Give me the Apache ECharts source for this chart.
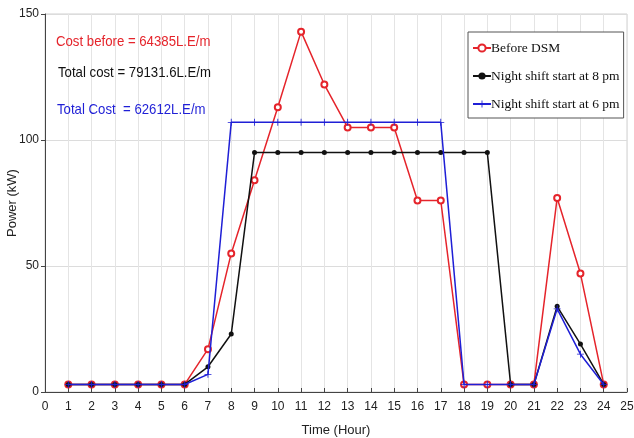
<!DOCTYPE html>
<html>
<head>
<meta charset="utf-8">
<script src="https://cdn.jsdelivr.net/npm/echarts@6/dist/echarts.min.js"></script>
<style>
    html, body { margin: 0; padding: 0; background: #fff; }
    #main { width: 634px; height: 438px; }
</style>
</head>
<body>
<div id="main"></div>
<script>
    // hours 1..24
    var hours = [1, 2, 3, 4, 5, 6, 7, 8, 9, 10, 11, 12, 13, 14, 15, 16, 17, 18, 19, 20, 21, 22, 23, 24];
    var beforeDSM = [3, 3, 3, 3, 3, 3, 17, 55, 84, 113, 143, 122, 105, 105, 105, 76, 76, 3, 3, 3, 3, 77, 47, 3];
    var shift8pm = [3, 3, 3, 3, 3, 3, 10, 23, 95, 95, 95, 95, 95, 95, 95, 95, 95, 95, 95, 3, 3, 34, 19, 3];
    var shift6pm = [3, 3, 3, 3, 3, 3, 7, 107, 107, 107, 107, 107, 107, 107, 107, 107, 107, 3, 3, 3, 3, 33, 15, 3];
    var seriesNames = ['Before DSM', 'Night shift start at 8 pm', 'Night shift start at 6 pm'];
    var costNotes = ['Cost before = 64385L.E/m', 'Total cost = 79131.6L.E/m', 'Total Cost  = 62612L.E/m'];

    var RED = '#e5242b', BLACK = '#111111', BLUE = '#1f1fd6';
    var plusPath = 'path://M0,4.4H10V5.6H0Z M4.4,0H5.6V10H4.4Z';
    var sans = '"Liberation Sans", Arial, sans-serif';

    function pairs(vals) {
        return hours.map(function (h, i) { return [h, vals[i]]; });
    }

    function note(txt, x, y, col) {
        return {
            type: 'text', x: x, y: y, z: 100, scaleX: 0.88,
            style: { text: txt, fill: col, font: '15px ' + sans }
        };
    }

    var chart = echarts.init(document.getElementById('main'));
    var option = {
        animation: false,
        backgroundColor: '#fff',
        grid: {
            left: 45, right: 7, top: 14, bottom: 46,
            outerBoundsMode: 'none', containLabel: false,
            show: true, borderColor: '#d0d0d0', borderWidth: 1
        },
        legend: {
            orient: 'vertical',
            left: 468, top: 32,
            padding: [9, 4, 7, 4],
            itemGap: 14,
            itemWidth: 18, itemHeight: 9,
            backgroundColor: '#fff',
            borderColor: '#555', borderWidth: 1,
            textStyle: { fontFamily: '"Liberation Serif", "Times New Roman", serif', fontSize: 13.5, color: '#111', padding: [0, 0, 0, -5] },
            data: seriesNames
        },
        xAxis: {
            type: 'value', min: 0, max: 25, interval: 1,
            name: 'Time (Hour)', nameLocation: 'middle', nameGap: 32,
            nameTextStyle: { fontFamily: sans, fontSize: 13, color: '#222' },
            axisLine: { lineStyle: { color: '#444' } },
            axisTick: { inside: true, length: 4, lineStyle: { color: '#444' } },
            axisLabel: { fontFamily: sans, fontSize: 12, color: '#222', margin: 9 },
            splitLine: { show: true, lineStyle: { color: '#e4e4e4' } }
        },
        yAxis: {
            type: 'value', min: 0, max: 150, interval: 50,
            name: 'Power (kW)', nameLocation: 'middle', nameGap: 26,
            nameMoveOverlap: false,
            nameTextStyle: { fontFamily: sans, fontSize: 13, color: '#222' },
            axisLine: { show: true, lineStyle: { color: '#444' } },
            axisTick: { show: true, length: 4, lineStyle: { color: '#444' } },
            axisLabel: { fontFamily: sans, fontSize: 12, color: '#222', margin: 6 },
            splitLine: { show: true, lineStyle: { color: '#dcdcdc' } }
        },
        graphic: [
            note(costNotes[0], 56, 34, RED),
            note(costNotes[1], 58, 65, BLACK),
            note(costNotes[2], 57, 102, BLUE)
        ],
        series: [
            {
                name: seriesNames[0], type: 'line', data: pairs(beforeDSM), z: 3,
                symbol: 'emptyCircle', symbolSize: 6,
                lineStyle: { color: RED, width: 1.5 },
                itemStyle: { color: RED, borderColor: RED, borderWidth: 1.2 }
            },
            {
                name: seriesNames[1], type: 'line', data: pairs(shift8pm), z: 4,
                symbol: 'circle', symbolSize: 5,
                lineStyle: { color: BLACK, width: 1.5 },
                itemStyle: { color: BLACK }
            },
            {
                name: seriesNames[2], type: 'line', data: pairs(shift6pm), z: 5,
                symbol: plusPath, symbolSize: 7,
                lineStyle: { color: BLUE, width: 1.5 },
                itemStyle: { color: BLUE }
            }
        ]
    };
    chart.setOption(option);
</script>
</body>
</html>
